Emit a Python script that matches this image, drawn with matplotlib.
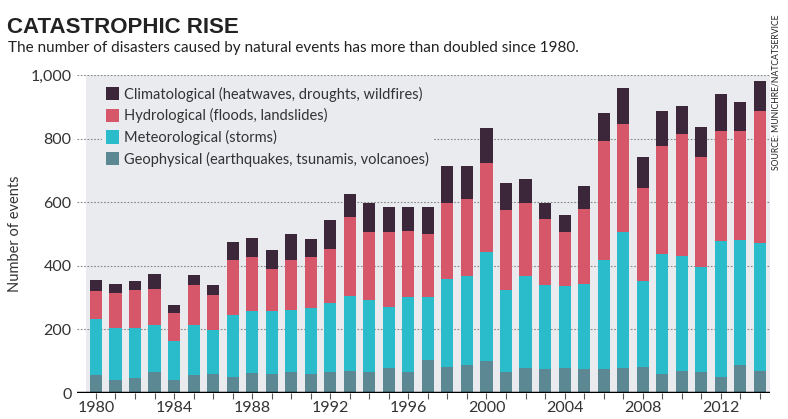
import numpy as np
import matplotlib.pyplot as plt
from matplotlib.patches import Patch
from matplotlib import font_manager

years = np.arange(1980, 2015)

geophysical = [58, 41, 47, 67, 41, 58, 60, 51, 63, 60, 67, 60, 67, 70, 67, 78, 65, 104,
               81, 88, 102, 67, 78, 74, 78, 74, 74, 78, 81, 60, 70, 67, 51, 88, 70]
meteorological = [174, 163, 157, 147, 121, 156, 139, 195, 194, 197, 195, 207, 217, 235, 227, 194, 236, 197,
                  278, 279, 341, 258, 289, 266, 258, 269, 345, 428, 270, 376, 360, 329, 427, 392, 402]
hydrological = [88, 110, 121, 114, 90, 126, 108, 173, 171, 132, 157, 161, 170, 249, 212, 234, 208, 200,
                240, 244, 281, 252, 229, 206, 170, 237, 373, 339, 294, 340, 383, 345, 347, 344, 416]
climatological = [34, 29, 26, 45, 26, 30, 32, 56, 59, 62, 82, 55, 89, 73, 90, 79, 76, 84,
                  114, 102, 110, 84, 78, 50, 53, 70, 89, 113, 98, 111, 90, 96, 115, 92, 94]

labels = ["Climatological (heatwaves, droughts, wildfires)",
          "Hydrological (floods, landslides)",
          "Meteorological (storms)",
          "Geophysical (earthquakes, tsunamis, volcanoes)"]
colors = ["#3b2739", "#d6566a", "#2bbccb", "#5b8893"]

plt.rcParams['font.family'] = ['Lato', 'DejaVu Sans']

# narrowest bold face we can find for the headline
names = {f.name for f in font_manager.fontManager.ttflist}
title_font = "Liberation Sans Narrow" if "Liberation Sans Narrow" in names else "Liberation Sans"

fig = plt.figure(figsize=(7.88, 4.19), dpi=100)
ax = fig.add_axes([77/788, 1 - 393/419, 693/788, 318/419])

ax.set_xlim(1979.03, 2014.52)
ax.set_ylim(0, 1000)
ax.set_facecolor("white")
ax.axvspan(1979.5, 2014.52, color="#e9ebef", zorder=0, lw=0)

for y in [200, 400, 600, 800, 1000]:
    ax.axhline(y, color="#888888", lw=0.8, ls=(0, (1.5, 1.5)), zorder=1)

# stack the four series
stack = [geophysical, meteorological, hydrological, climatological]
bottom = np.zeros(len(years))
for vals, col in zip(stack, colors[::-1]):
    ax.bar(years, vals, width=0.62, bottom=bottom, color=col, zorder=2, lw=0)
    bottom += np.array(vals)

ax.axhline(0, color="black", lw=2.5, zorder=3)

for s in ax.spines.values():
    s.set_visible(False)

ax.set_yticks([0, 200, 400, 600, 800, 1000])
ax.set_yticklabels(["0", "200", "400", "600", "800", "1,000"], fontsize=11.5, color="#333333")
ax.tick_params(axis="y", length=0, pad=4)
ax.set_xticks(years, minor=True)
ax.set_xticks(np.arange(1980, 2015, 4))
ax.tick_params(axis="x", which="both", length=4, width=0.8, color="#555555", direction="out",
               labelsize=11.5, labelcolor="#333333", pad=2)
ax.set_ylabel("Number of events", fontsize=10.5, color="#333333", labelpad=6)

handles = [Patch(facecolor=c, edgecolor="none") for c in colors]
leg = ax.legend(handles, labels, loc="upper left", bbox_to_anchor=(0.025, 1.0),
                frameon=True, fontsize=10.5, handlelength=0.9, handleheight=1.0,
                handletextpad=0.35, labelspacing=0.45, borderpad=0.3, labelcolor="#333333")
leg.get_frame().set_facecolor("#e9ebef")
leg.get_frame().set_edgecolor("none")
leg.get_frame().set_alpha(1)
leg.set_zorder(4)

fig.text(7/788, 1 - 33/419, "CATASTROPHIC RISE", fontsize=16, fontweight="bold",
         family=[title_font, "DejaVu Sans"], color="#222222")
fig.text(8/788, 1 - 52/419, "The number of disasters caused by natural events has more than doubled since 1980.",
         fontsize=11, color="#222222")
fig.text(0.985, 1 - 15/419, "SOURCE: MUNICHRE/NATCATSERVICE", rotation=90, fontsize=6.2,
         ha="center", va="top", color="#222222")

fig.savefig("out.png", dpi=100)
